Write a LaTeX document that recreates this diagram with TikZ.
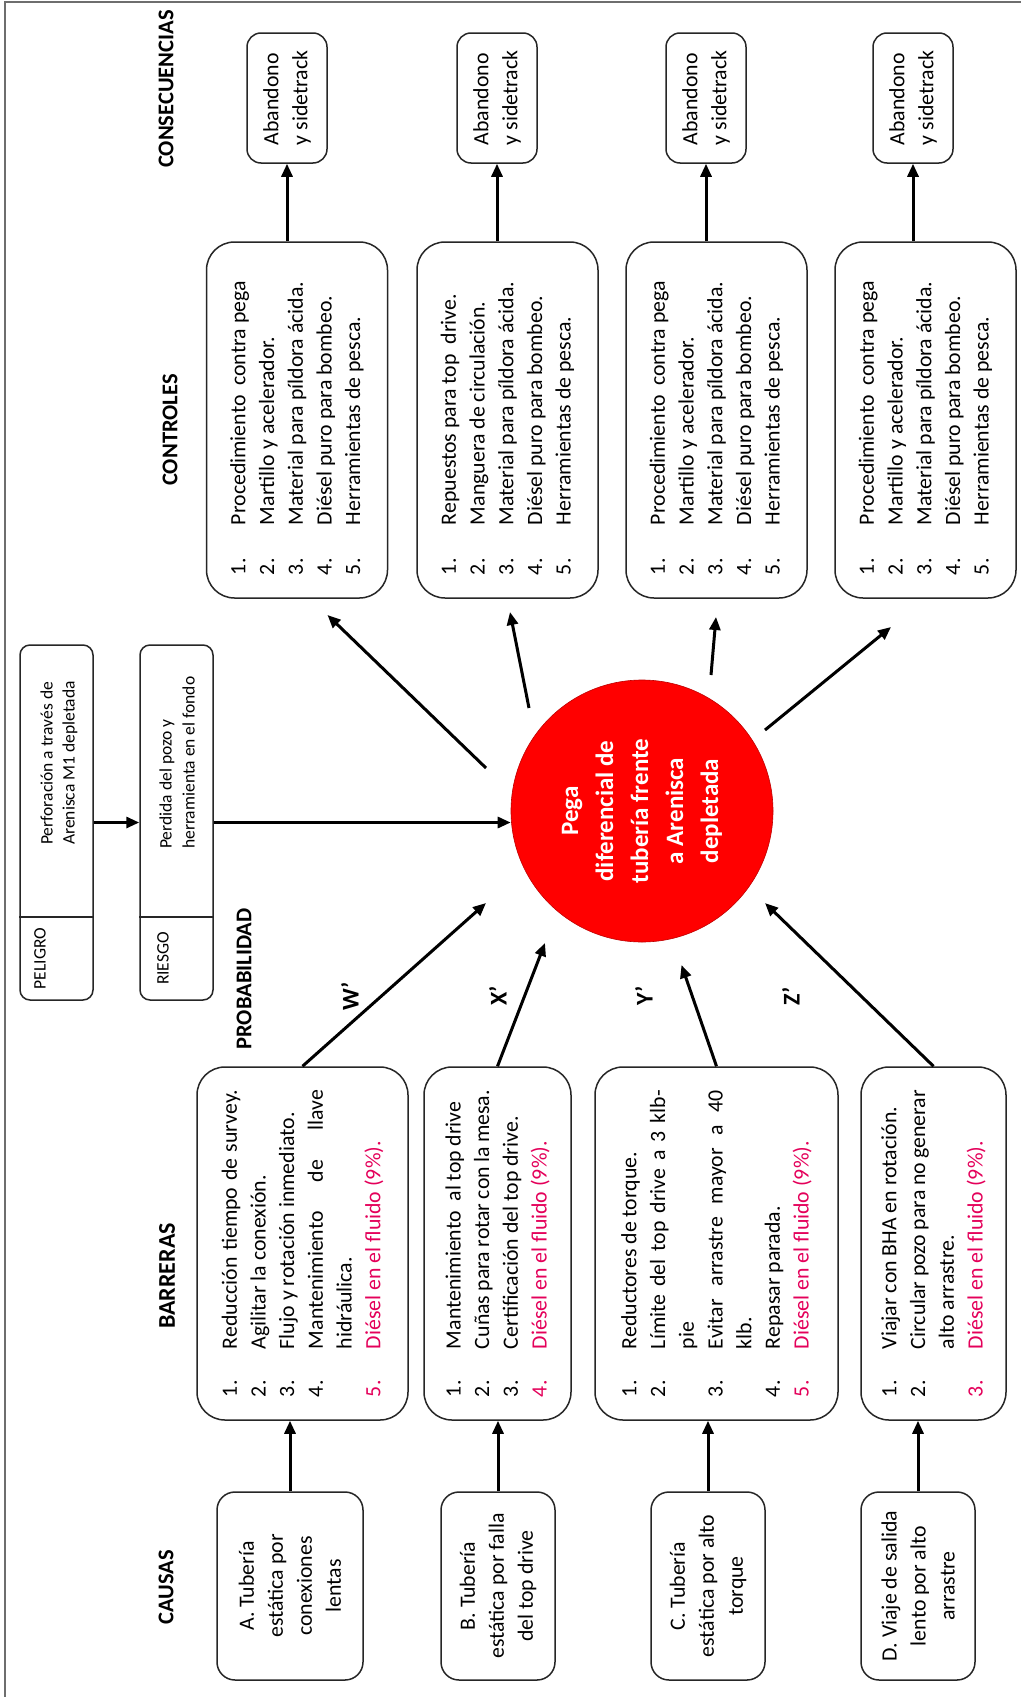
\documentclass[tikz,border=0pt]{standalone}
\usepackage{fontspec}
\setmainfont{Carlito}
\usetikzlibrary{arrows.meta}
\definecolor{redtxt}{RGB}{228,0,90}
\definecolor{circred}{RGB}{255,0,0}
\definecolor{framegray}{RGB}{110,110,110}
\newcommand\fs[2]{\fontsize{#1}{#2}\selectfont}
\newcommand\bl[2]{\makebox[48pt][l]{#1}\makebox[259pt][l]{#2}}
\newcommand\bs[2]{\makebox[48pt][l]{#1}\makebox[259pt][s]{#2}}
\newcommand\cl[2]{\makebox[50pt][l]{#1}\makebox[260pt][l]{#2}}
\tikzset{
  boxline/.style={draw=black!85, line width=1.5pt, inner sep=0pt},
  causebox/.style={boxline, rounded corners=18pt, minimum width=188pt, align=center, font=\fs{21.8}{29}},
  barbox/.style={boxline, rounded corners=28pt, minimum width=353pt, align=left, font=\fs{21.8}{28.7}},
  ctrlbox/.style={boxline, rounded corners=28pt, minimum width=356pt, minimum height=181pt, align=left, font=\fs{21.8}{28.7}},
  consbox/.style={boxline, rounded corners=14pt, minimum width=130pt, minimum height=80pt, align=left, font=\fs{21.8}{29}},
  smallbox/.style={boxline, rounded corners=10pt, minimum width=355pt, minimum height=73pt},
  header/.style={font=\bfseries\fs{#1}{26}},
  pname/.style={font=\bfseries\fs{24}{28}},
  arr/.style={line width=3pt, -{Triangle[length=13pt,width=11pt]}}
}
\begin{document}
\begin{tikzpicture}
\useasboundingbox (0pt,0pt) rectangle (1021pt,-1697pt);
\fill[white] (0pt,0pt) rectangle (1021pt,-1697pt);
\draw[framegray, line width=1.5pt] (5pt,-1697pt) -- (5pt,-2pt) -- (1021pt,-2pt);
\begin{scope}[shift={(0pt,-1697pt)}, rotate=90, transform shape, x=1pt, y=-1pt]
% headers
\node[header=22.5] (hcaus) at (110,166) {CAUSAS};
\node[header=24] (hbarr) at (421,167) {BARRERAS};
\node[header=22.5] (hprob) at (718,244) {PROBABILIDAD};
\node[header=22.5] (hctrl) at (1267,170) {CONTROLES};
\node[header=22.5] (hcons) at (1608,166) {CONSECUENCIAS};
% causes
\node[causebox, minimum height=146pt] (cA) at (111,290) {A. Tubería\\estática por\\conexiones\\lentas};
\node[causebox, minimum height=114pt] (cB) at (111,498) {B. Tubería\\estática por falla\\del top drive};
\node[causebox, minimum height=114pt] (cC) at (111,708) {C. Tubería\\estática por alto\\torque};
\node[causebox, minimum height=114pt] (cD) at (111,918) {D. Viaje de salida\\lento por alto\\arrastre};
% barriers
\node[barbox, minimum height=211pt] (b1) at (453.5,302.5) {%
\bs{1.}{Reducción tiempo de survey.}\\
\bl{2.}{Agilitar la conexión.}\\
\bl{3.}{Flujo y rotación inmediato.}\\
\bs{4.}{Mantenimiento de llave}\\
\bl{}{hidráulica.}\\
\textcolor{redtxt}{\bl{5.}{Diésel en el fluido (9\%).}}};
\node[barbox, minimum height=147pt] (b2) at (453.5,497.5) {%
\bl{1.}{Mantenimiento\ \ al top drive}\\
\bs{2.}{Cuñas para rotar con la mesa.}\\
\bl{3.}{Certificación del top drive.}\\
\textcolor{redtxt}{\bl{4.}{Diésel en el fluido (9\%).}}};
\node[barbox, minimum height=243pt] (b3) at (453.5,716.5) {%
\bl{1.}{Reductores de torque.}\\
\bs{2.}{Límite del top drive a 3 klb-}\\
\bl{}{pie}\\
\bs{3.}{Evitar arrastre mayor a 40}\\
\bl{}{klb.}\\
\bl{4.}{Repasar parada.}\\
\textcolor{redtxt}{\bl{5.}{Diésel en el fluido (9\%).}}};
\node[barbox, minimum height=145pt] (b4) at (453.5,933.5) {%
\bl{1.}{Viajar con BHA en rotación.}\\
\bs{2.}{Circular pozo para no generar}\\
\bl{}{alto arrastre.}\\
\textcolor{redtxt}{\bl{3.}{Diésel en el fluido (9\%).}}};
% probability labels
\node[pname] (lW) at (701,350) {W’};
\node[pname] (lX) at (701,498) {X’};
\node[pname] (lY) at (701,644) {Y’};
\node[pname] (lZ) at (701,791) {Z’};
% hazard / risk
\node[smallbox] (pel) at (874.5,56.5) {};
\node[smallbox] (ries) at (874.5,176.5) {};
\coordinate (dv) at (780,0);
\draw[black!85, line width=1.2pt] (dv |- pel.north) -- (dv |- pel.south);
\draw[black!85, line width=1.2pt] (dv |- ries.north) -- (dv |- ries.south);
\node[font=\fs{17.5}{22}] (plab) at (738.5,40) {PELIGRO};
\node[font=\fs{17.5}{22}] (rlab) at (738.5,163) {RIESGO};
\node[anchor=west, align=left, inner sep=0pt, font=\fs{17.5}{22}] (ptxt) at (852,59) {Perforación a través de\\Arenisca M1 depletada};
\node[anchor=west, align=left, inner sep=0pt, font=\fs{17.5}{23}] (rtxt) at (848,177) {Perdida del pozo y\\herramienta en el fondo};
% central event
\node[circle, fill=circred, draw=red!75!black, line width=0.6pt, minimum size=262pt, inner sep=0pt,
      text=white, align=center, font=\bfseries\fs{25}{35}] (pega) at (886,642)
      {Pega\\diferencial de\\tubería frente\\a Arenisca\\depletada};
% controls
\node[ctrlbox] (c1) at (1277,297) {%
\cl{1.}{Procedimiento\ \ contra pega}\\
\cl{2.}{Martillo y acelerador.}\\
\cl{3.}{Material para píldora ácida.}\\
\cl{4.}{Diésel puro para bombeo.}\\
\cl{5.}{Herramientas de pesca.}};
\node[ctrlbox] (c2) at (1277,507.5) {%
\cl{1.}{Repuestos para top\ \ drive.}\\
\cl{2.}{Manguera de circulación.}\\
\cl{3.}{Material para píldora ácida.}\\
\cl{4.}{Diésel puro para bombeo.}\\
\cl{5.}{Herramientas de pesca.}};
\node[ctrlbox] (c3) at (1277,716.5) {%
\cl{1.}{Procedimiento\ \ contra pega}\\
\cl{2.}{Martillo y acelerador.}\\
\cl{3.}{Material para píldora ácida.}\\
\cl{4.}{Diésel puro para bombeo.}\\
\cl{5.}{Herramientas de pesca.}};
\node[ctrlbox] (c4) at (1277,925.5) {%
\cl{1.}{Procedimiento\ \ contra pega}\\
\cl{2.}{Martillo y acelerador.}\\
\cl{3.}{Material para píldora ácida.}\\
\cl{4.}{Diésel puro para bombeo.}\\
\cl{5.}{Herramientas de pesca.}};
% consequences
\node[consbox] (k1) at (1599,287) {Abandono\\y sidetrack};
\node[consbox] (k2) at (1599,497) {Abandono\\y sidetrack};
\node[consbox] (k3) at (1599,706) {Abandono\\y sidetrack};
\node[consbox] (k4) at (1599,913) {Abandono\\y sidetrack};
% free arrow ends
\coordinate (tW) at (794,486);
\coordinate (tX) at (754,545);
\coordinate (tY) at (732,681.5);
\coordinate (tZ) at (794,765);
\coordinate (s1) at (929,486);
\coordinate (s2) at (989,529);
\coordinate (s3) at (1022,711);
\coordinate (s4) at (967,765);
\coordinate (e1) at (1082,327.5);
\coordinate (e2) at (1085,510);
\coordinate (e3) at (1080,716);
\coordinate (e4) at (1070,891);
% connectors
\draw[arr] (pel.south) -- (ries.north);
\draw[arr] (ries.south) -- (ries.south |- pega.north);
\draw[arr] (cA.east) -- (cA.east -| b1.west);
\draw[arr] (cB.east) -- (cB.east -| b2.west);
\draw[arr] (cC.east) -- (cC.east -| b3.west);
\draw[arr] (cD.east) -- (cD.east -| b4.west);
\draw[arr] (b1.east) -- (tW);
\draw[arr] (b2.east) -- (tX);
\draw[arr] (b3.east) -- (tY);
\draw[arr] (b4.east) -- (tZ);
\draw[arr] (s1) -- (e1);
\draw[arr] (s2) -- (e2);
\draw[arr] (s3) -- (e3);
\draw[arr] (s4) -- (e4);
\draw[arr] (k1.west -| c1.east) -- (k1.west);
\draw[arr] (k2.west -| c2.east) -- (k2.west);
\draw[arr] (k3.west -| c3.east) -- (k3.west);
\draw[arr] (k4.west -| c4.east) -- (k4.west);
\end{scope}
\end{tikzpicture}
\end{document}
